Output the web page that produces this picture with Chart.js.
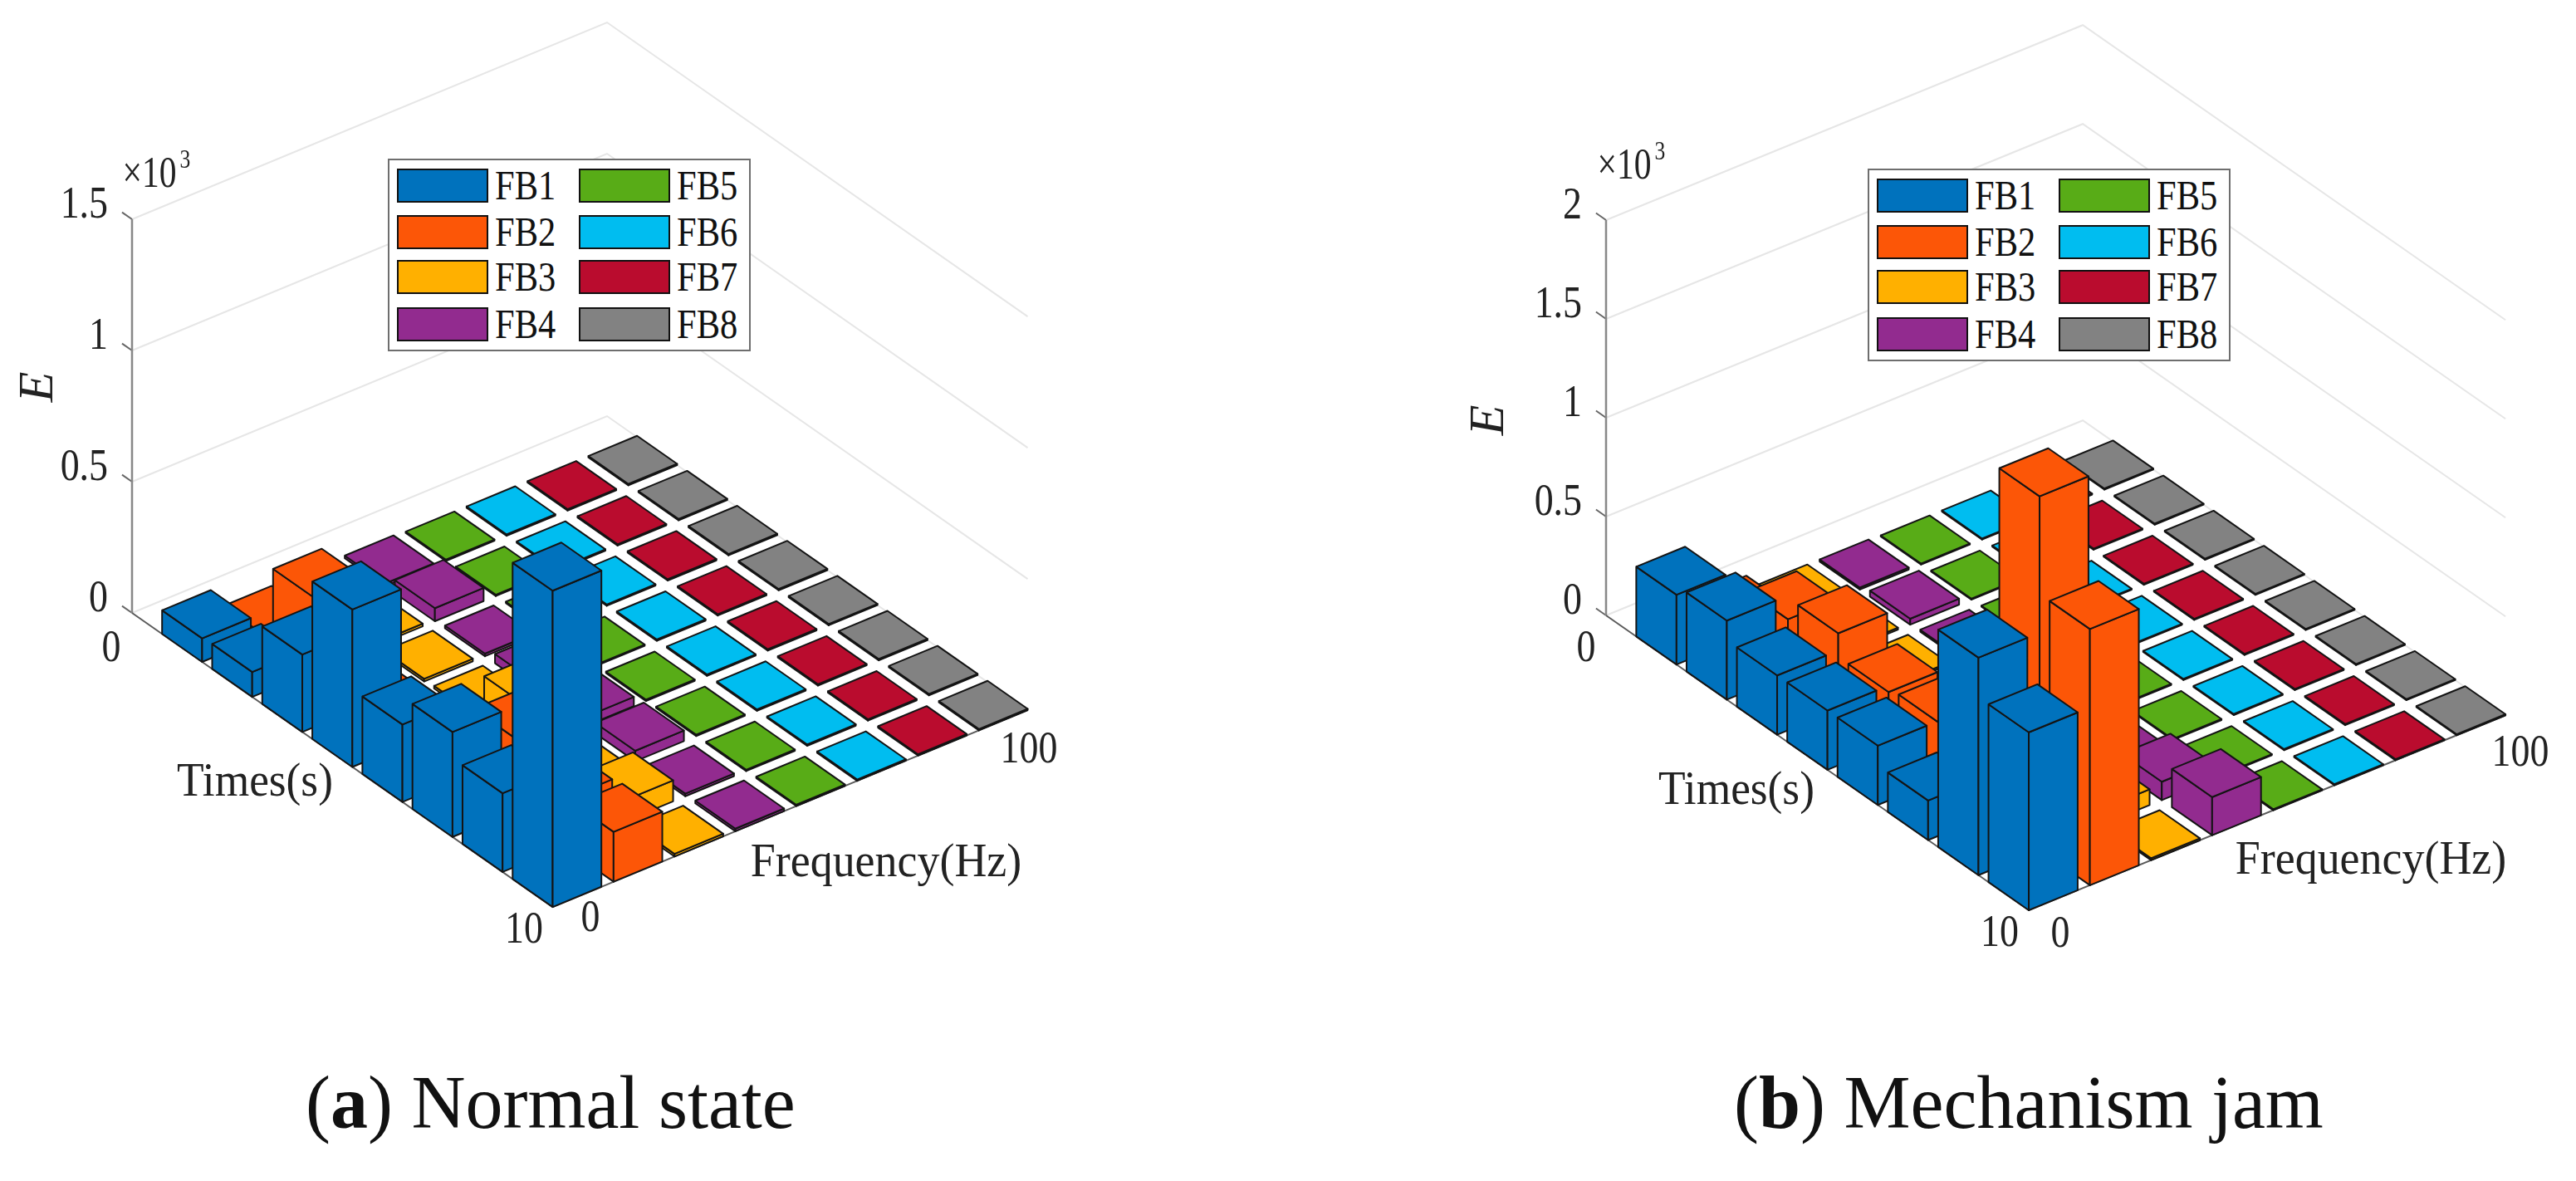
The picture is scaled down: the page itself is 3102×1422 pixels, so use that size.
<!DOCTYPE html>
<html>
<head>
<meta charset="utf-8">
<title>Energy by frequency band</title>
<script src="https://cdn.jsdelivr.net/npm/chart.js@4/dist/chart.umd.min.js"></script>
<style>
    html, body { margin: 0; background: #fff; width: 3102px; height: 1422px; overflow: hidden; }
    canvas { position: absolute; top: 0; }
    #normal { left: 0; }
    #jam { left: 1551px; }
    .legend {
        position: absolute; width: 437px; height: 232px; box-sizing: border-box;
        border: 2px solid #6e6e6e; background: #fff;
        font-family: "Liberation Serif", serif; font-size: 50px; color: #111;
    }
    .legend div { position: absolute; height: 41px; width: 110px; border: 2px solid #111; box-sizing: border-box; }
    .legend span { position: absolute; line-height: 41px; transform: scale(.85, 1); transform-origin: left center; }
    .caption {
        position: absolute; top: 1274px; line-height: 108px;
        font-family: "Liberation Serif", serif; font-size: 90px; color: #111; white-space: pre;
    }
</style>
</head>
<body>
<canvas id="normal" width="1551" height="1422"></canvas>
<canvas id="jam" width="1551" height="1422"></canvas>
<div class="legend" id="normal-legend" style="left:467px;top:191px"></div>
<div class="legend" id="jam-legend" style="left:2249px;top:203px"></div>
<div class="caption" style="left:368px">(<b>a</b>) Normal state</div>
<div class="caption" style="left:2088px">(<b>b</b>) Mechanism jam</div>
<script>
const bandNames = ["FB1", "FB2", "FB3", "FB4", "FB5", "FB6", "FB7", "FB8"];
const bandColors = ["#0072BD", "#FC5607", "#FFB000", "#922B8F", "#58AC17", "#00BDF0", "#BA0C2E", "#828282"];

// E values in units of 10^3, one entry per time frame
const normalFB1 = [0.09, 0.095, 0.295, 0.6, 0.295, 0.4, 0.3, 1.205];
const normalFB2 = [0.01, 0.285, 0.02, 0.02, 0.05, 0.285, 0.18, 0.19];
const normalFB3 = [0.01, 0.01, 0.01, 0.01, 0.18, 0.02, 0.08, 0.01];
const normalFB4 = [0.01, 0.05, 0.01, 0.035, 0.035, 0.04, 0.01, 0.01];
const normalFB5 = [0.005, 0.005, 0.005, 0.005, 0.005, 0.005, 0.005, 0.005];
const normalFB6 = [0.005, 0.005, 0.005, 0.005, 0.005, 0.005, 0.005, 0.005];
const normalFB7 = [0.005, 0.005, 0.005, 0.005, 0.005, 0.005, 0.005, 0.005];
const normalFB8 = [0.005, 0.005, 0.005, 0.005, 0.005, 0.005, 0.005, 0.005];

const jamFB1 = [0.353, 0.4, 0.3, 0.3, 0.3, 0.2, 1.1, 0.9];
const jamFB2 = [0.08, 0.28, 0.387, 0.267, 0.29, 0.1, 1.79, 1.296];
const jamFB3 = [0.01, 0.01, 0.01, 0.01, 0.01, 0.01, 0.08, 0.01];
const jamFB4 = [0.01, 0.03, 0.01, 0.01, 0.01, 0.02, 0.093, 0.193];
const jamFB5 = [0.005, 0.005, 0.005, 0.005, 0.005, 0.005, 0.005, 0.005];
const jamFB6 = [0.005, 0.005, 0.005, 0.005, 0.005, 0.005, 0.005, 0.005];
const jamFB7 = [0.005, 0.005, 0.005, 0.005, 0.005, 0.005, 0.005, 0.005];
const jamFB8 = [0.005, 0.005, 0.005, 0.005, 0.005, 0.005, 0.005, 0.005];

const normalBands = [normalFB1, normalFB2, normalFB3, normalFB4, normalFB5, normalFB6, normalFB7, normalFB8];
const jamBands = [jamFB1, jamFB2, jamFB3, jamFB4, jamFB5, jamFB6, jamFB7, jamFB8];

const normalTicks = [0, 0.5, 1, 1.5];
const jamTicks = [0, 0.5, 1, 1.5, 2];

const BAR_WIDTH = 0.8;
const TIME_START = -0.6;
const GRID_END = 7.8;

// Oblique projection of (frequency cell, time cell, E) to the flat x/y scales
const normalView = {
    cornerX: 159, cornerY: 738, timeDx: 60.3, timeDy: 42.15, freqDx: 73.33, freqDy: -30.38, unit: 316,
    labels: [
        { text: "Times(s)", x: 307, y: 943, size: 58, squeeze: 0.92 },
        { text: "Frequency(Hz)", x: 1067, y: 1040, size: 58, squeeze: 0.93 },
        { text: "0", x: 134, y: 782, size: 54 },
        { text: "10", x: 631, y: 1121, size: 54 },
        { text: "0", x: 711, y: 1107, size: 54 },
        { text: "100", x: 1239, y: 904, size: 54 },
        { text: "E", x: 47, y: 466, size: 60, italic: true, rotate: true, squeeze: 1 },
        { text: "×10", x: 180, y: 211, size: 52, squeeze: 0.8 },
        { text: "3", x: 223, y: 194, size: 32, squeeze: 0.8 },
    ],
};
const jamView = {
    cornerX: 383, cornerY: 741, timeDx: 60.6, timeDy: 42.26, freqDx: 73.6, freqDy: -30.1, unit: 238,
    labels: [
        { text: "Times(s)", x: 540, y: 953, size: 58, squeeze: 0.92 },
        { text: "Frequency(Hz)", x: 1304, y: 1037, size: 58, squeeze: 0.93 },
        { text: "0", x: 359, y: 782, size: 54 },
        { text: "10", x: 857, y: 1125, size: 54 },
        { text: "0", x: 930, y: 1126, size: 54 },
        { text: "100", x: 1484, y: 908, size: 54 },
        { text: "E", x: 243, y: 506, size: 60, italic: true, rotate: true, squeeze: 1 },
        { text: "×10", x: 405, y: 201, size: 52, squeeze: 0.8 },
        { text: "3", x: 448, y: 184, size: 32, squeeze: 0.8 },
    ],
};

function project(view, u, v, e) {
    return {
        x: view.cornerX + (v - TIME_START) * view.timeDx + u * view.freqDx,
        y: view.cornerY + (v - TIME_START) * view.timeDy + u * view.freqDy - e * view.unit,
    };
}

function face(view, corners, color) {
    let points = corners.map(c => project(view, c[0], c[1], c[2]));
    points.push(points[0]);
    return {
        data: points,
        showLine: true,
        fill: "shape",
        backgroundColor: color,
        borderColor: "#141414",
        borderWidth: 2,
        borderJoinStyle: "round",
        pointRadius: 0,
    };
}

function wireLine(view, corners, color, width) {
    return {
        data: corners.map(c => project(view, c[0], c[1], c[2])),
        showLine: true,
        fill: false,
        borderColor: color,
        borderWidth: width,
        pointRadius: 0,
    };
}

function buildDatasets(view, bands, ticks) {
    let w = BAR_WIDTH;
    let sets = [];

    // First dataset is painted last, so nearest bars come first
    for (let i=0; i<bands.length; i++) {
        for (let j=bands[i].length-1; j>=0; j--) {
            let e = bands[i][j];
            let color = bandColors[i];
            sets.push(face(view, [[i, j, e], [i+w, j, e], [i+w, j+w, e], [i, j+w, e]], color));
            sets.push(face(view, [[i, j+w, 0], [i+w, j+w, 0], [i+w, j+w, e], [i, j+w, e]], color));
            sets.push(face(view, [[i, j, 0], [i, j+w, 0], [i, j+w, e], [i, j, e]], color));
        }
    }

    // Axis lines
    let top = ticks[ticks.length-1];
    sets.push(wireLine(view, [[0, TIME_START, 0], [0, GRID_END, 0], [GRID_END, GRID_END, 0]], "#5a5a5a", 2));
    sets.push(wireLine(view, [[0, TIME_START, 0], [0, TIME_START, top]], "#888888", 2.5));

    // Back walls and the small outward ticks
    for (let z of ticks) {
        sets.push(wireLine(view, [[0, TIME_START, z], [0, TIME_START - 0.2, z]], "#666666", 2));
        sets.push(wireLine(view, [[0, TIME_START, z], [GRID_END, TIME_START, z], [GRID_END, GRID_END, z]], "#e6e6e6", 2));
    }
    return sets;
}

function drawText(chart, item) {
    let ctx = chart.ctx;
    ctx.save();
    ctx.translate(chart.scales.x.getPixelForValue(item.x), chart.scales.y.getPixelForValue(item.y));
    if (item.rotate) ctx.rotate(-Math.PI / 2);
    ctx.scale(item.squeeze || 0.85, 1);
    ctx.font = (item.italic ? "italic " : "") + item.size + "px 'Liberation Serif', serif";
    ctx.fillStyle = "#222";
    ctx.textAlign = item.align || "center";
    ctx.textBaseline = "middle";
    ctx.fillText(item.text, 0, 0);
    ctx.restore();
}

// Tick and axis text follows the same flat scales as the bars
const labelPlugin = {
    id: "projectedLabels",
    afterDatasetsDraw(chart, args, options) {
        let view = options.view;
        for (let z of options.ticks) {
            let p = project(view, 0, TIME_START, z);
            drawText(chart, { text: String(z), x: p.x - 29, y: p.y - 16, size: 54, align: "right" });
        }
        view.labels.forEach(item => drawText(chart, item));
    },
};

function buildLegend(id) {
    let box = document.getElementById(id);
    let rows = [10, 66, 120, 177];
    bandNames.forEach((name, i) => {
        let left = i < 4 ? 9 : 228;
        let top = rows[i % 4];
        let swatch = document.createElement("div");
        swatch.style.cssText = `left:${left}px;top:${top}px;background:${bandColors[i]}`;
        let label = document.createElement("span");
        label.style.cssText = `left:${left + 118}px;top:${top}px`;
        label.textContent = name;
        box.append(swatch, label);
    });
}

function createPanel(canvasId, view, bands, ticks) {
    return new Chart(document.getElementById(canvasId).getContext("2d"), {
        type: "scatter",
        data: { datasets: buildDatasets(view, bands, ticks) },
        options: {
            responsive: false,
            animation: false,
            devicePixelRatio: 1,
            layout: { padding: 0 },
            scales: {
                x: { type: "linear", display: false, min: 0, max: 1551 },
                y: { type: "linear", display: false, min: 0, max: 1422, reverse: true },
            },
            plugins: {
                legend: { display: false },
                tooltip: { enabled: false },
                projectedLabels: { view: view, ticks: ticks },
            },
        },
        plugins: [labelPlugin],
    });
}

createPanel("normal", normalView, normalBands, normalTicks);
createPanel("jam", jamView, jamBands, jamTicks);
buildLegend("normal-legend");
buildLegend("jam-legend");
</script>
</body>
</html>
